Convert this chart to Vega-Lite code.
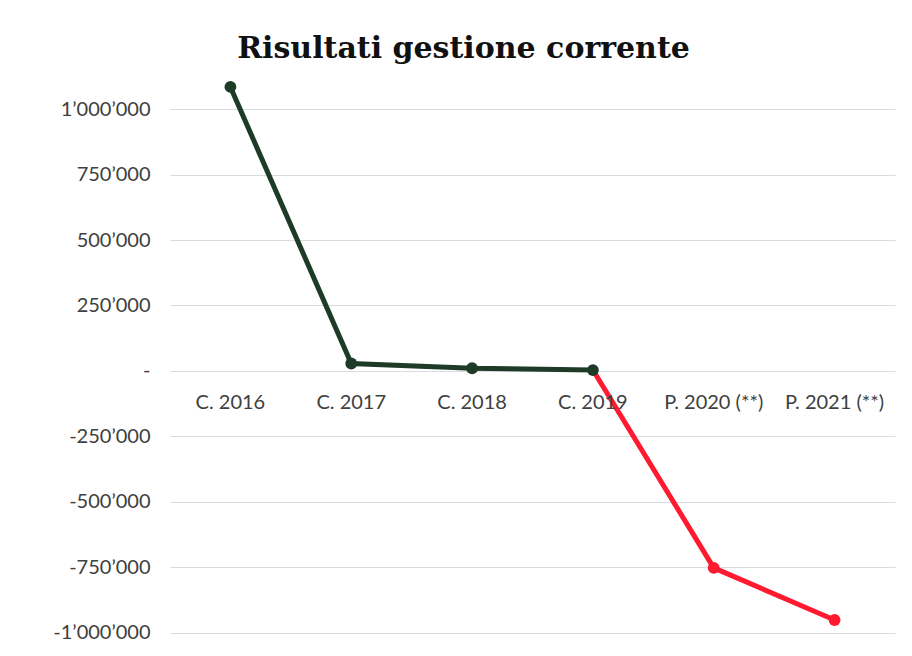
{
  "$schema": "https://vega.github.io/schema/vega-lite/v6.json",
  "width": 725,
  "height": 560,
  "autosize": "none",
  "padding": {"left": 170, "top": 83, "right": 17, "bottom": 13},
  "background": "white",
  "config": {"view": {"stroke": null}},
  "title": {
    "text": "Risultati gestione corrente",
    "font": "DejaVu Serif",
    "fontSize": 30,
    "fontWeight": "bold",
    "color": "#111111",
    "dx": -69,
    "offset": 13
  },
  "data": {
    "values": [
      {"anno": "C. 2016", "valore": 1085000, "serie": "verde"},
      {"anno": "C. 2017", "valore": 28000, "serie": "verde"},
      {"anno": "C. 2018", "valore": 10000, "serie": "verde"},
      {"anno": "C. 2019", "valore": 3000, "serie": "verde"},
      {"anno": "C. 2019", "valore": 3000, "serie": "rosso"},
      {"anno": "P. 2020 (**)", "valore": -753000, "serie": "rosso"},
      {"anno": "P. 2021 (**)", "valore": -952000, "serie": "rosso"}
    ]
  },
  "encoding": {
    "x": {
      "field": "anno",
      "type": "ordinal",
      "scale": {
        "type": "point",
        "padding": 0.5,
        "domain": ["C. 2016", "C. 2017", "C. 2018", "C. 2019", "P. 2020 (**)", "P. 2021 (**)"]
      },
      "axis": null
    }
  },
  "layer": [
    {
      "mark": {"type": "line", "color": "#ff1a30", "strokeWidth": 5},
      "transform": [{"filter": "datum.serie == 'rosso'"}],
      "encoding": {
        "y": {
          "field": "valore",
          "type": "quantitative",
          "scale": {"domain": [-1040000, 1100000], "nice": false, "zero": false},
          "axis": {
            "title": null,
            "values": [-1000000, -750000, -500000, -250000, 0, 250000, 500000, 750000, 1000000],
            "labelExpr": "datum.value == 0 ? '-' : (datum.value < 0 ? '-' : '') + replace(format(abs(datum.value), ',d'), regexp(',', 'g'), '’')",
            "grid": true,
            "gridColor": "#d9dbe3",
            "gridWidth": 1,
            "domain": false,
            "ticks": false,
            "labelPadding": 20,
            "labelFont": "Lato",
            "labelFontSize": 20,
            "labelColor": "#404040"
          }
        }
      }
    },
    {
      "mark": {"type": "line", "color": "#1e3b28", "strokeWidth": 5},
      "transform": [{"filter": "datum.serie == 'verde'"}],
      "encoding": {"y": {"field": "valore", "type": "quantitative"}}
    },
    {
      "mark": {"type": "point", "filled": true, "size": 140, "opacity": 1},
      "transform": [{"filter": "datum.serie == 'verde' || datum.anno != 'C. 2019'"}],
      "encoding": {
        "y": {"field": "valore", "type": "quantitative"},
        "color": {
          "field": "serie",
          "type": "nominal",
          "scale": {"domain": ["verde", "rosso"], "range": ["#1e3b28", "#ff1a30"]},
          "legend": null
        }
      }
    },
    {
      "mark": {"type": "text", "font": "Lato", "fontSize": 20, "color": "#404040", "dy": 32, "baseline": "middle"},
      "transform": [{"filter": "datum.serie == 'verde' || datum.anno != 'C. 2019'"}],
      "encoding": {
        "y": {"datum": 0},
        "text": {"field": "anno"}
      }
    }
  ]
}
